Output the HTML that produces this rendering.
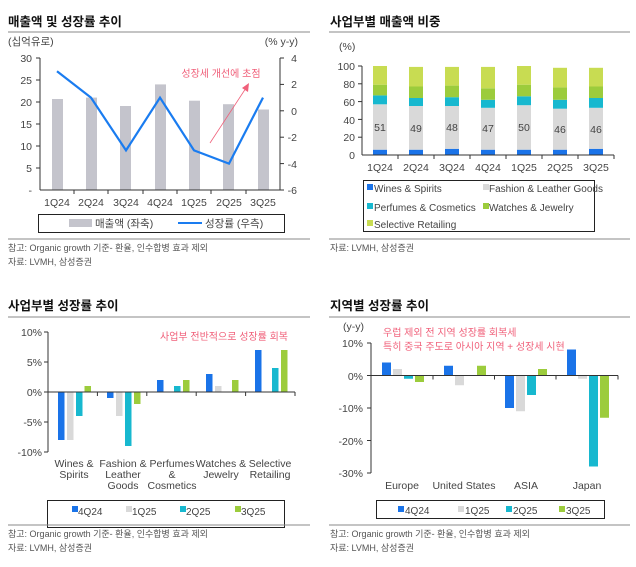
<!DOCTYPE html>
<html><head><meta charset="utf-8"><style>
html,body{margin:0;padding:0;background:#fff;}
svg{display:block;font-family:"Liberation Sans","Noto Sans CJK KR",sans-serif;}
.t{font-size:12.5px;font-weight:bold;fill:#111;}
.a{font-size:10.5px;fill:#444;}
.n{font-size:9px;fill:#555;}
.p{font-size:10px;fill:#f0607a;}
</style></head><body>
<svg width="636" height="567" viewBox="0 0 636 567" xmlns="http://www.w3.org/2000/svg">
<!-- Panel 1 -->
<text class="t" x="8" y="26">매출액 및 성장률 추이</text>
<line x1="8" y1="32" x2="310" y2="32" stroke="#888" stroke-width="1"/>
<text class="a" x="8" y="45" font-size="10">(십억유로)</text>
<text class="a" x="298" y="45" font-size="10" text-anchor="end">(% y-y)</text>
<g fill="#c4c4cc">
<rect x="52" y="99" width="11" height="91"/>
<rect x="86" y="97.6" width="11" height="92.4"/>
<rect x="120" y="106" width="11" height="84"/>
<rect x="155" y="84.4" width="11" height="105.6"/>
<rect x="189" y="100.7" width="11" height="89.3"/>
<rect x="223" y="104.2" width="11" height="85.8"/>
<rect x="258" y="109.5" width="11" height="80.5"/>
</g>
<g stroke="#333" stroke-width="1">
<line x1="40" y1="58" x2="40" y2="190"/><line x1="280" y1="58" x2="280" y2="190"/>
<line x1="40" y1="190" x2="280" y2="190"/>
<line x1="36" y1="58" x2="40" y2="58"/><line x1="36" y1="80" x2="40" y2="80"/><line x1="36" y1="102" x2="40" y2="102"/><line x1="36" y1="124" x2="40" y2="124"/><line x1="36" y1="146" x2="40" y2="146"/><line x1="36" y1="168" x2="40" y2="168"/>
<line x1="280" y1="58" x2="284" y2="58"/><line x1="280" y1="84.4" x2="284" y2="84.4"/><line x1="280" y1="110.8" x2="284" y2="110.8"/><line x1="280" y1="137.2" x2="284" y2="137.2"/><line x1="280" y1="163.6" x2="284" y2="163.6"/><line x1="280" y1="190" x2="284" y2="190"/>
<line x1="74" y1="190" x2="74" y2="194"/><line x1="108" y1="190" x2="108" y2="194"/><line x1="143" y1="190" x2="143" y2="194"/><line x1="177" y1="190" x2="177" y2="194"/><line x1="211" y1="190" x2="211" y2="194"/><line x1="246" y1="190" x2="246" y2="194"/>
</g>
<g class="a" text-anchor="end">
<text x="32" y="62">30</text><text x="32" y="84">25</text><text x="32" y="106">20</text><text x="32" y="128">15</text><text x="32" y="150">10</text><text x="32" y="172">5</text><text x="32" y="194">-</text>
</g>
<g class="a" text-anchor="end">
<text x="297" y="62">4</text><text x="297" y="88">2</text><text x="297" y="115">0</text><text x="297" y="141">-2</text><text x="297" y="168">-4</text><text x="297" y="194">-6</text>
</g>
<g class="a" text-anchor="middle">
<text x="57" y="206">1Q24</text><text x="91" y="206">2Q24</text><text x="126" y="206">3Q24</text><text x="160" y="206">4Q24</text><text x="194" y="206">1Q25</text><text x="229" y="206">2Q25</text><text x="263" y="206">3Q25</text>
</g>
<polyline points="57,71.2 91,97.6 126,150.4 160,97.6 194,150.4 229,163.6 263,97.6" fill="none" stroke="#1a7cf0" stroke-width="2.2"/>
<line x1="210" y1="143" x2="246" y2="88" stroke="#f0607a" stroke-width="0.8"/>
<polygon points="249,83 248,92 242,88" fill="#f0607a"/>
<text class="p" x="221" y="77" text-anchor="middle">성장세 개선에 초점</text>
<rect x="38.5" y="214.5" width="246" height="18" fill="none" stroke="#222" stroke-width="1"/>
<rect x="69" y="219" width="23" height="8" fill="#c4c4cc"/>
<text class="a" x="95" y="227" font-size="10">매출액 (좌축)</text>
<line x1="178" y1="223" x2="202" y2="223" stroke="#1a7cf0" stroke-width="2"/>
<text class="a" x="205" y="227" font-size="10">성장률 (우측)</text>
<line x1="8" y1="239" x2="310" y2="239" stroke="#888"/>
<text class="n" x="8" y="251">참고: Organic growth 기준- 환율, 인수합병 효과 제외</text>
<text class="n" x="8" y="265">자료: LVMH, 삼성증권</text>

<!-- Panel 2 -->
<text class="t" x="330" y="26">사업부별 매출액 비중</text>
<line x1="329" y1="32" x2="630" y2="32" stroke="#888"/>
<text class="a" x="339" y="50" font-size="10">(%)</text>
<g>
<g fill="#1a73e8">
<rect x="373" y="149.7" width="14" height="5.3"/><rect x="409" y="149.7" width="14" height="5.3"/><rect x="445" y="148.8" width="14" height="6.2"/><rect x="481" y="149.7" width="14" height="5.3"/><rect x="517" y="149.7" width="14" height="5.3"/><rect x="553" y="149.7" width="14" height="5.3"/><rect x="589" y="148.8" width="14" height="6.2"/>
</g>
<g fill="#d9d9d9">
<rect x="373" y="104.3" width="14" height="45.4"/><rect x="409" y="106" width="14" height="43.7"/><rect x="445" y="106" width="14" height="42.8"/><rect x="481" y="107.8" width="14" height="41.9"/><rect x="517" y="105.2" width="14" height="44.5"/><rect x="553" y="108.7" width="14" height="41"/><rect x="589" y="107.8" width="14" height="41"/>
</g>
<g fill="#17b8cf">
<rect x="373" y="95.4" width="14" height="8.9"/><rect x="409" y="98" width="14" height="8"/><rect x="445" y="97.2" width="14" height="8.8"/><rect x="481" y="99.8" width="14" height="8"/><rect x="517" y="96.3" width="14" height="8.9"/><rect x="553" y="99.8" width="14" height="8.9"/><rect x="589" y="98" width="14" height="9.8"/>
</g>
<g fill="#9ccc3c">
<rect x="373" y="84.7" width="14" height="10.7"/><rect x="409" y="86.5" width="14" height="11.5"/><rect x="445" y="85.6" width="14" height="11.6"/><rect x="481" y="88.3" width="14" height="11.5"/><rect x="517" y="84.7" width="14" height="11.6"/><rect x="553" y="87.4" width="14" height="12.4"/><rect x="589" y="86.5" width="14" height="11.5"/>
</g>
<g fill="#c8dc52">
<rect x="373" y="66" width="14" height="18.7"/><rect x="409" y="66.9" width="14" height="19.6"/><rect x="445" y="66.9" width="14" height="18.7"/><rect x="481" y="66.9" width="14" height="21.4"/><rect x="517" y="66" width="14" height="18.7"/><rect x="553" y="67.8" width="14" height="19.6"/><rect x="589" y="67.8" width="14" height="18.7"/>
</g>
</g>
<g class="a" text-anchor="middle" font-size="11">
<text x="380" y="131">51</text><text x="416" y="132">49</text><text x="452" y="131">48</text><text x="488" y="132">47</text><text x="524" y="131">50</text><text x="560" y="133">46</text><text x="596" y="133">46</text>
</g>
<g stroke="#333">
<line x1="362" y1="66" x2="362" y2="155"/><line x1="362" y1="155" x2="614" y2="155"/>
<line x1="358" y1="66" x2="362" y2="66"/><line x1="358" y1="83.8" x2="362" y2="83.8"/><line x1="358" y1="101.6" x2="362" y2="101.6"/><line x1="358" y1="119.4" x2="362" y2="119.4"/><line x1="358" y1="137.2" x2="362" y2="137.2"/>
<line x1="398" y1="155" x2="398" y2="159"/><line x1="434" y1="155" x2="434" y2="159"/><line x1="470" y1="155" x2="470" y2="159"/><line x1="506" y1="155" x2="506" y2="159"/><line x1="542" y1="155" x2="542" y2="159"/><line x1="578" y1="155" x2="578" y2="159"/><line x1="614" y1="155" x2="614" y2="159"/>
</g>
<g class="a" text-anchor="end">
<text x="355" y="70">100</text><text x="355" y="88">80</text><text x="355" y="106">60</text><text x="355" y="124">40</text><text x="355" y="141">20</text><text x="355" y="159">0</text>
</g>
<g class="a" text-anchor="middle">
<text x="380" y="171">1Q24</text><text x="416" y="171">2Q24</text><text x="452" y="171">3Q24</text><text x="488" y="171">4Q24</text><text x="524" y="171">1Q25</text><text x="560" y="171">2Q25</text><text x="596" y="171">3Q25</text>
</g>
<rect x="363.5" y="180.5" width="231" height="51" fill="none" stroke="#222"/>
<g font-size="10" fill="#444">
<rect x="367" y="184" width="6" height="6" fill="#1a73e8"/><text x="374" y="192">Wines &amp; Spirits</text>
<rect x="483" y="184" width="6" height="6" fill="#d9d9d9"/><text x="489" y="192">Fashion &amp; Leather Goods</text>
<rect x="367" y="203" width="6" height="6" fill="#17b8cf"/><text x="374" y="211">Perfumes &amp; Cosmetics</text>
<rect x="483" y="203" width="6" height="6" fill="#9ccc3c"/><text x="489" y="211">Watches &amp; Jewelry</text>
<rect x="367" y="220" width="6" height="6" fill="#c8dc52"/><text x="374" y="228">Selective Retailing</text>
</g>
<line x1="329" y1="239" x2="630" y2="239" stroke="#888"/>
<text class="n" x="330" y="251">자료: LVMH, 삼성증권</text>

<!-- Panel 3 -->
<text class="t" x="8" y="310">사업부별 성장률 추이</text>
<line x1="8" y1="317" x2="310" y2="317" stroke="#888"/>
<g>
<rect x="58" y="392" width="6.5" height="48" fill="#1a73e8"/>
<rect x="67" y="392" width="6.5" height="48" fill="#d9d9d9"/>
<rect x="76" y="392" width="6.5" height="24" fill="#17b8cf"/>
<rect x="84.5" y="386" width="6.5" height="6" fill="#9ccc3c"/>
<rect x="107" y="392" width="6.5" height="6" fill="#1a73e8"/>
<rect x="116" y="392" width="6.5" height="24" fill="#d9d9d9"/>
<rect x="125" y="392" width="6.5" height="54" fill="#17b8cf"/>
<rect x="134" y="392" width="6.5" height="12" fill="#9ccc3c"/>
<rect x="157" y="380" width="6.5" height="12" fill="#1a73e8"/>
<rect x="174" y="386" width="6.5" height="6" fill="#17b8cf"/>
<rect x="183" y="380" width="6.5" height="12" fill="#9ccc3c"/>
<rect x="206" y="374" width="6.5" height="18" fill="#1a73e8"/>
<rect x="215" y="386" width="6.5" height="6" fill="#d9d9d9"/>
<rect x="232" y="380" width="6.5" height="12" fill="#9ccc3c"/>
<rect x="255" y="350" width="6.5" height="42" fill="#1a73e8"/>
<rect x="272" y="368" width="6.5" height="24" fill="#17b8cf"/>
<rect x="281" y="350" width="6.5" height="42" fill="#9ccc3c"/>
</g>
<g stroke="#333">
<line x1="48" y1="332" x2="48" y2="452"/><line x1="48" y1="392" x2="295" y2="392"/>
<line x1="44" y1="332" x2="48" y2="332"/><line x1="44" y1="362" x2="48" y2="362"/><line x1="44" y1="392" x2="48" y2="392"/><line x1="44" y1="422" x2="48" y2="422"/><line x1="44" y1="452" x2="48" y2="452"/>
<line x1="97.4" y1="392" x2="97.4" y2="396"/><line x1="146.8" y1="392" x2="146.8" y2="396"/><line x1="196.2" y1="392" x2="196.2" y2="396"/><line x1="245.6" y1="392" x2="245.6" y2="396"/><line x1="295" y1="392" x2="295" y2="396"/>
</g>
<g class="a" text-anchor="end">
<text x="42" y="336">10%</text><text x="42" y="366">5%</text><text x="42" y="396">0%</text><text x="42" y="426">-5%</text><text x="42" y="456">-10%</text>
</g>
<g class="a" text-anchor="middle" font-size="10">
<text x="74" y="467">Wines &amp;</text><text x="74" y="478">Spirits</text>
<text x="123" y="467">Fashion &amp;</text><text x="123" y="478">Leather</text><text x="123" y="489">Goods</text>
<text x="172" y="467">Perfumes</text><text x="172" y="478">&amp;</text><text x="172" y="489">Cosmetics</text>
<text x="221" y="467">Watches &amp;</text><text x="221" y="478">Jewelry</text>
<text x="270" y="467">Selective</text><text x="270" y="478">Retailing</text>
</g>
<text class="p" x="224" y="340" text-anchor="middle">사업부 전반적으로 성장률 회복</text>
<rect x="47.5" y="500.5" width="237" height="27" fill="none" stroke="#222"/>
<g font-size="10" fill="#444">
<rect x="72" y="506" width="6" height="6" fill="#1a73e8"/><text x="78" y="515">4Q24</text>
<rect x="126" y="506" width="6" height="6" fill="#d9d9d9"/><text x="132" y="515">1Q25</text>
<rect x="180" y="506" width="6" height="6" fill="#17b8cf"/><text x="186" y="515">2Q25</text>
<rect x="235" y="506" width="6" height="6" fill="#9ccc3c"/><text x="241" y="515">3Q25</text>
</g>
<line x1="8" y1="525" x2="310" y2="525" stroke="#888"/>
<text class="n" x="8" y="537">참고: Organic growth 기준- 환율, 인수합병 효과 제외</text>
<text class="n" x="8" y="551">자료: LVMH, 삼성증권</text>

<!-- Panel 4 -->
<text class="t" x="330" y="310">지역별 성장률 추이</text>
<line x1="329" y1="317" x2="630" y2="317" stroke="#888"/>
<text class="a" x="343" y="330" font-size="10">(y-y)</text>
<text class="p" x="383" y="336" font-size="9.5">우럽 제외 전 지역 성장률 회복세</text>
<text class="p" x="383" y="350" font-size="9.5">특히 중국 주도로 아시아 지역 + 성장세 시현</text>
<g>
<rect x="382" y="362.5" width="9" height="13" fill="#1a73e8"/>
<rect x="393" y="369" width="9" height="6.5" fill="#d9d9d9"/>
<rect x="404" y="375.5" width="9" height="3.25" fill="#17b8cf"/>
<rect x="415" y="375.5" width="9" height="6.5" fill="#9ccc3c"/>
<rect x="444" y="365.75" width="9" height="9.75" fill="#1a73e8"/>
<rect x="455" y="375.5" width="9" height="9.75" fill="#d9d9d9"/>
<rect x="477" y="365.75" width="9" height="9.75" fill="#9ccc3c"/>
<rect x="505" y="375.5" width="9" height="32.5" fill="#1a73e8"/>
<rect x="516" y="375.5" width="9" height="35.75" fill="#d9d9d9"/>
<rect x="527" y="375.5" width="9" height="19.5" fill="#17b8cf"/>
<rect x="538" y="369" width="9" height="6.5" fill="#9ccc3c"/>
<rect x="567" y="349.5" width="9" height="26" fill="#1a73e8"/>
<rect x="578" y="375.5" width="9" height="3.25" fill="#d9d9d9"/>
<rect x="589" y="375.5" width="9" height="91" fill="#17b8cf"/>
<rect x="600" y="375.5" width="9" height="42.25" fill="#9ccc3c"/>
</g>
<g stroke="#333">
<line x1="371" y1="343" x2="371" y2="473"/><line x1="371" y1="375.5" x2="618" y2="375.5"/>
<line x1="367" y1="343" x2="371" y2="343"/><line x1="367" y1="375.5" x2="371" y2="375.5"/><line x1="367" y1="408" x2="371" y2="408"/><line x1="367" y1="440.5" x2="371" y2="440.5"/><line x1="367" y1="473" x2="371" y2="473"/>
<line x1="433" y1="375.5" x2="433" y2="379.5"/><line x1="494.5" y1="375.5" x2="494.5" y2="379.5"/><line x1="556" y1="375.5" x2="556" y2="379.5"/><line x1="618" y1="375.5" x2="618" y2="379.5"/>
</g>
<g class="a" text-anchor="end">
<text x="363" y="347">10%</text><text x="363" y="380">0%</text><text x="363" y="412">-10%</text><text x="363" y="445">-20%</text><text x="363" y="477">-30%</text>
</g>
<g class="a" text-anchor="middle">
<text x="402" y="489">Europe</text><text x="464" y="489">United States</text><text x="526" y="489">ASIA</text><text x="587" y="489">Japan</text>
</g>
<rect x="376.5" y="500.5" width="228" height="18" fill="none" stroke="#222"/>
<g font-size="10" fill="#444">
<rect x="398" y="506" width="6" height="6" fill="#1a73e8"/><text x="405" y="514">4Q24</text>
<rect x="458" y="506" width="6" height="6" fill="#d9d9d9"/><text x="465" y="514">1Q25</text>
<rect x="506" y="506" width="6" height="6" fill="#17b8cf"/><text x="513" y="514">2Q25</text>
<rect x="559" y="506" width="6" height="6" fill="#9ccc3c"/><text x="566" y="514">3Q25</text>
</g>
<line x1="329" y1="525" x2="630" y2="525" stroke="#888"/>
<text class="n" x="330" y="537">참고: Organic growth 기준- 환율, 인수합병 효과 제외</text>
<text class="n" x="330" y="551">자료: LVMH, 삼성증권</text>
</svg>
</body></html>
